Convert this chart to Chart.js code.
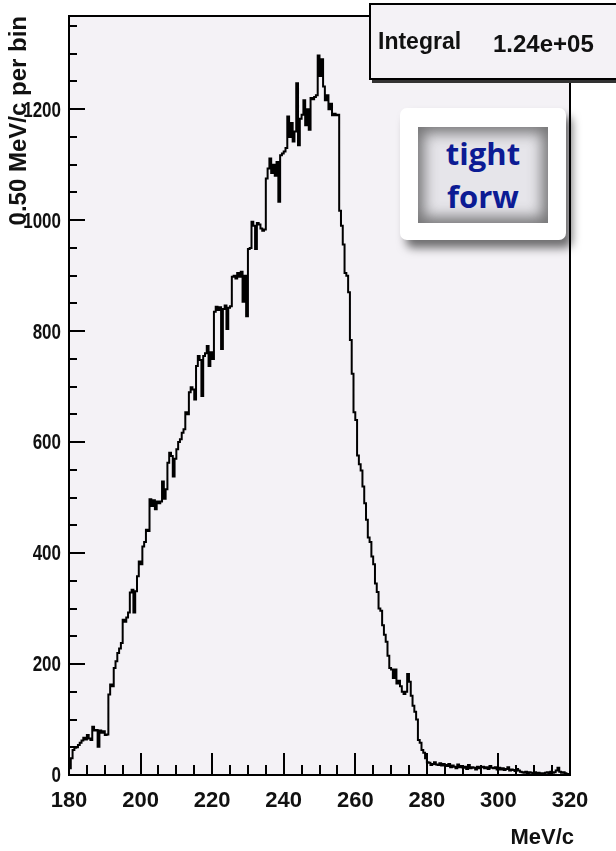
<!DOCTYPE html>
<html>
<head>
<meta charset="utf-8">
<script src="https://cdn.jsdelivr.net/npm/chart.js@4/dist/chart.umd.min.js"></script>
<style>
  html, body { margin: 0; padding: 0; background: #fff; overflow: hidden; }
  #wrap { position: relative; width: 616px; height: 851px; }
  #plot { position: absolute; left: 0; top: 0; }
  .stats {
    position: absolute; left: 369px; top: 3px; width: 262px; height: 73px;
    background: #f4f2f6; border: 2px solid #000; box-shadow: 3px 3px 0 #333;
    font-family: "Liberation Sans", Arial, sans-serif; font-weight: bold; font-size: 23px; color: #111;
  }
  .stats .name { position: absolute; left: 7px; top: 23px; }
  .stats .val { position: absolute; left: 122px; top: 25px; font-size: 24px; }
  .tag {
    position: absolute; left: 400px; top: 108px; width: 166px; height: 132px;
    background: #fff; border-radius: 7px; box-shadow: 6px 8px 10px rgba(0,0,0,0.55);
  }
  .tag .in {
    position: absolute; left: 18px; top: 19px; width: 130px; height: 96px;
    background: #e6e5ea; box-shadow: inset 0 0 14px 6px rgba(70,70,70,0.7);
    display: flex; flex-direction: column; align-items: center; justify-content: center;
    font-family: "Open Sans", sans-serif; font-weight: bold; font-size: 31px; line-height: 43px; color: #0c1b94;
  }
</style>
</head>
<body>
<div id="wrap">
  <canvas id="plot" width="616" height="851"></canvas>
  <div class="stats"><span class="name">Integral</span><span class="val">1.24e+05</span></div>
  <div class="tag"><div class="in"><span>tight</span><span>forw</span></div></div>
</div>
<script>
// Momentum histogram, 0.5 MeV/c bins from 180 to 320 MeV/c
const xStart = 180;
const xEnd = 320;
const binWidth = 0.5;

// entries per bin, ten bins (5 MeV/c) per row
const counts = [
  12, 30, 45, 49, 50, 54, 58, 62, 67, 64,            // 180-185
  72, 66, 63, 87, 80, 81, 51, 80, 76, 79,            // 185-190
  72, 73, 145, 163, 160, 193, 205, 220, 228, 238,    // 190-195
  280, 276, 284, 293, 329, 334, 293, 331, 358, 385,  // 195-200
  380, 412, 420, 442, 440, 497, 485, 495, 479, 493,  // 200-205
  490, 493, 529, 498, 515, 563, 581, 575, 538, 570,  // 205-210
  587, 600, 605, 617, 623, 654, 650, 690, 699, 695,  // 210-215
  677, 737, 755, 748, 683, 755, 760, 773, 737, 762,  // 215-220
  750, 835, 844, 838, 843, 768, 840, 846, 804, 842,  // 220-225
  845, 898, 900, 895, 905, 898, 907, 853, 900, 827,  // 225-230
  948, 950, 997, 990, 948, 995, 992, 985, 981, 983,  // 230-235
  1075, 1093, 1111, 1085, 1100, 1080, 1105, 1033, 1117, 1120, // 235-240
  1124, 1130, 1187, 1150, 1175, 1142, 1160, 1247, 1135, 1183, // 240-245
  1190, 1216, 1171, 1200, 1163, 1220, 1218, 1222, 1225, 1297, // 245-250
  1260, 1290, 1241, 1216, 1225, 1200, 1210, 1189, 1192, 1189, // 250-255
  1190, 1017, 990, 956, 905, 900, 870, 784, 723, 654, // 255-260
  640, 576, 560, 549, 520, 490, 460, 428, 420, 394,  // 260-265
  380, 345, 330, 300, 296, 270, 253, 240, 215, 193,  // 265-270
  190, 175, 190, 165, 170, 160, 150, 146, 150, 182,  // 270-275
  168, 143, 125, 114, 100, 63, 58, 45, 40, 30,       // 275-280
  23, 22, 18, 20, 23, 19, 18, 21, 17, 20,            // 280-285
  18, 16, 20, 14, 17, 15, 12, 19, 14, 16,            // 285-290
  13, 15, 11, 18, 12, 14, 13, 10, 15, 12,            // 290-295
  14, 15, 12, 14, 11, 16, 13, 12, 14, 10,            // 295-300
  13, 10, 12, 9, 11, 14, 8, 10, 9, 7,                // 300-305
  11, 8, 6, 5, 4, 6, 3, 5, 4, 2,                     // 305-310
  5, 3, 4, 2, 3, 1, 4, 5, 3, 6,                      // 310-315
  4, 5, 8, 13, 6, 4, 5, 3, 2, 1                      // 315-320
];

// axis range and labelled ticks
const yMax = 1368;
const xTickValues = [180, 200, 220, 240, 260, 280, 300, 320];
const yTickValues = [0, 200, 400, 600, 800, 1000, 1200];
const xMinor = 5, yMinor = 50;

const xTitle = 'MeV/c';
const yTitle = '0.50 MeV/c per bin';

// step outline: each bin is held from its left edge to the next one
const points = [{ x: xStart, y: 0 }];
counts.forEach((c, i) => points.push({ x: xStart + i * binWidth, y: c }));
points.push({ x: xStart + counts.length * binWidth, y: counts[counts.length - 1] });

const labelFont = '"Liberation Sans", Arial, sans-serif';

const padFill = {
  id: 'padFill',
  beforeDraw(chart) {
    const { ctx, chartArea: a } = chart;
    ctx.save();
    ctx.fillStyle = '#f4f2f6';
    ctx.fillRect(a.left, a.top, a.right - a.left, a.bottom - a.top);
    ctx.restore();
  }
};

// frame, inward tick marks, tall y labels and axis titles
const frame = {
  id: 'frame',
  afterDatasetsDraw(chart) {
    const { ctx, chartArea: a, scales: { x, y } } = chart;
    ctx.save();
    ctx.strokeStyle = '#000';
    ctx.lineWidth = 2;
    ctx.strokeRect(a.left, a.top, a.right - a.left, a.bottom - a.top);
    ctx.beginPath();
    for (let v = x.min; v <= x.max + 1e-9; v += xMinor) {
      const px = Math.round(x.getPixelForValue(v));
      const len = xTickValues.includes(v) ? 22 : 10;
      ctx.moveTo(px, a.bottom);
      ctx.lineTo(px, a.bottom - len);
    }
    for (let v = 0; v <= y.max; v += yMinor) {
      const py = Math.round(y.getPixelForValue(v));
      const len = yTickValues.includes(v) ? 16 : 8;
      ctx.moveTo(a.left, py);
      ctx.lineTo(a.left + len, py);
    }
    ctx.stroke();

    ctx.fillStyle = '#111';
    ctx.font = 'bold 17px ' + labelFont;
    ctx.textAlign = 'right';
    ctx.textBaseline = 'middle';
    y.ticks.forEach(t => {
      const py = y.getPixelForValue(t.value);
      ctx.save();
      ctx.translate(a.left - 8, py);
      ctx.scale(1, 1.3);
      ctx.fillText(String(t.value), 0, 1);
      ctx.restore();
    });

    ctx.font = 'bold 22px ' + labelFont;
    ctx.textAlign = 'right';
    ctx.textBaseline = 'alphabetic';
    ctx.fillText(xTitle, a.right + 4, 844);

    ctx.translate(26, a.top);
    ctx.rotate(-Math.PI / 2);
    ctx.font = 'bold 24px ' + labelFont;
    ctx.textAlign = 'right';
    ctx.fillText(yTitle, 0, 0);
    ctx.restore();
  }
};

new Chart(document.getElementById('plot'), {
  type: 'line',
  data: {
    datasets: [{
      data: points,
      stepped: true,
      borderColor: '#000',
      borderWidth: 2,
      pointRadius: 0,
      fill: false
    }]
  },
  options: {
    responsive: false,
    animation: false,
    devicePixelRatio: 1,
    layout: { padding: { top: 16, right: 46, left: 0, bottom: 0 } },
    plugins: { legend: { display: false }, tooltip: { enabled: false } },
    scales: {
      x: {
        type: 'linear', min: xStart, max: xEnd,
        grid: { display: false, drawTicks: false },
        border: { display: false },
        afterBuildTicks(s) { s.ticks = xTickValues.map(v => ({ value: v })); },
        ticks: { padding: 13, color: '#111', font: { family: labelFont, weight: 'bold', size: 22 },
                 callback: v => String(v) },
        afterFit(s) { s.height = 76; }
      },
      y: {
        type: 'linear', min: 0, max: yMax,
        grid: { display: false, drawTicks: false },
        border: { display: false },
        afterBuildTicks(s) { s.ticks = yTickValues.map(v => ({ value: v })); },
        ticks: { display: false },
        afterFit(s) { s.width = 69; }
      }
    }
  },
  plugins: [padFill, frame]
});
</script>
</body>
</html>
